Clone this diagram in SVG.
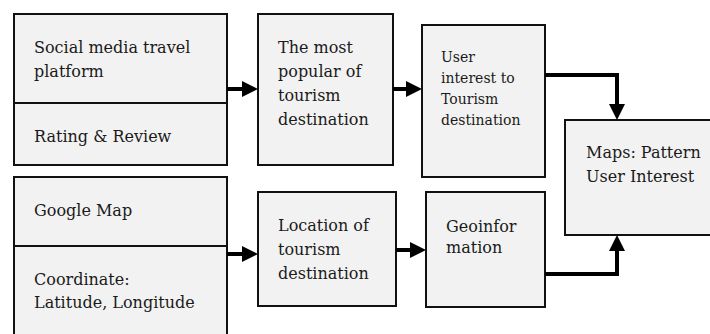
<svg xmlns="http://www.w3.org/2000/svg" width="710" height="334" viewBox="0 0 710 334">
  <style>
    .box { fill: #f2f2f2; stroke: #111; stroke-width: 2; }
    .div { stroke: #111; stroke-width: 2; }
    .t { font-family: "DejaVu Serif", "Liberation Serif", serif; font-size: 16px; fill: #1a1a1a; }
    .s { font-size: 14px; }
    .wire { fill: none; stroke: #000; stroke-width: 4; }
    .head { fill: #000; }
  </style>
  <rect width="710" height="334" fill="#fff"/>

  <g id="social-media">
    <rect class="box" x="14" y="14" width="213" height="151"/>
    <line class="div" x1="14" y1="103" x2="227" y2="103"/>
    <text class="t" x="34" y="53">Social media travel</text>
    <text class="t" x="34" y="77">platform</text>
    <text class="t" x="34" y="142">Rating &amp; Review</text>
  </g>

  <g id="most-popular">
    <rect class="box" x="258" y="14" width="135" height="151"/>
    <text class="t" x="278" y="53">The most</text>
    <text class="t" x="278" y="77">popular of</text>
    <text class="t" x="278" y="101">tourism</text>
    <text class="t" x="278" y="125">destination</text>
  </g>

  <g id="user-interest">
    <rect class="box" x="422" y="25" width="123" height="152"/>
    <text class="t s" x="441" y="62">User</text>
    <text class="t s" x="441" y="83">interest to</text>
    <text class="t s" x="441" y="104">Tourism</text>
    <text class="t s" x="441" y="125">destination</text>
  </g>

  <g id="maps">
    <rect class="box" x="565" y="120" width="150" height="115"/>
    <text class="t" x="586" y="158">Maps: Pattern</text>
    <text class="t" x="586" y="182">User Interest</text>
  </g>

  <g id="google-map">
    <rect class="box" x="14" y="177" width="213" height="170"/>
    <line class="div" x1="14" y1="246" x2="227" y2="246"/>
    <text class="t" x="34" y="216">Google Map</text>
    <text class="t" x="34" y="285">Coordinate:</text>
    <text class="t" x="34" y="308">Latitude, Longitude</text>
  </g>

  <g id="location">
    <rect class="box" x="258" y="192" width="138" height="114"/>
    <text class="t" x="278" y="231">Location of</text>
    <text class="t" x="278" y="255">tourism</text>
    <text class="t" x="278" y="279">destination</text>
  </g>

  <g id="geoinformation">
    <rect class="box" x="426" y="192" width="119" height="115"/>
    <text class="t" x="446" y="232">Geoinfor</text>
    <text class="t" x="446" y="253">mation</text>
  </g>

  <g id="connectors">
    <!-- social media -> most popular -->
    <line class="wire" x1="227" y1="89" x2="244" y2="89"/>
    <polygon class="head" points="242,81 258,89 242,97"/>
    <!-- most popular -> user interest -->
    <line class="wire" x1="393" y1="89" x2="408" y2="89"/>
    <polygon class="head" points="406,81 422,89 406,97"/>
    <!-- user interest -> maps -->
    <polyline class="wire" points="545,75 617,75 617,106"/>
    <polygon class="head" points="609,104 617,120 625,104"/>
    <!-- google map -> location -->
    <line class="wire" x1="227" y1="254" x2="244" y2="254"/>
    <polygon class="head" points="242,246 258,254 242,262"/>
    <!-- location -> geoinformation -->
    <line class="wire" x1="396" y1="250" x2="412" y2="250"/>
    <polygon class="head" points="410,242 426,250 410,258"/>
    <!-- geoinformation -> maps -->
    <polyline class="wire" points="545,274 617,274 617,249"/>
    <polygon class="head" points="609,251 617,235 625,251"/>
  </g>
</svg>
